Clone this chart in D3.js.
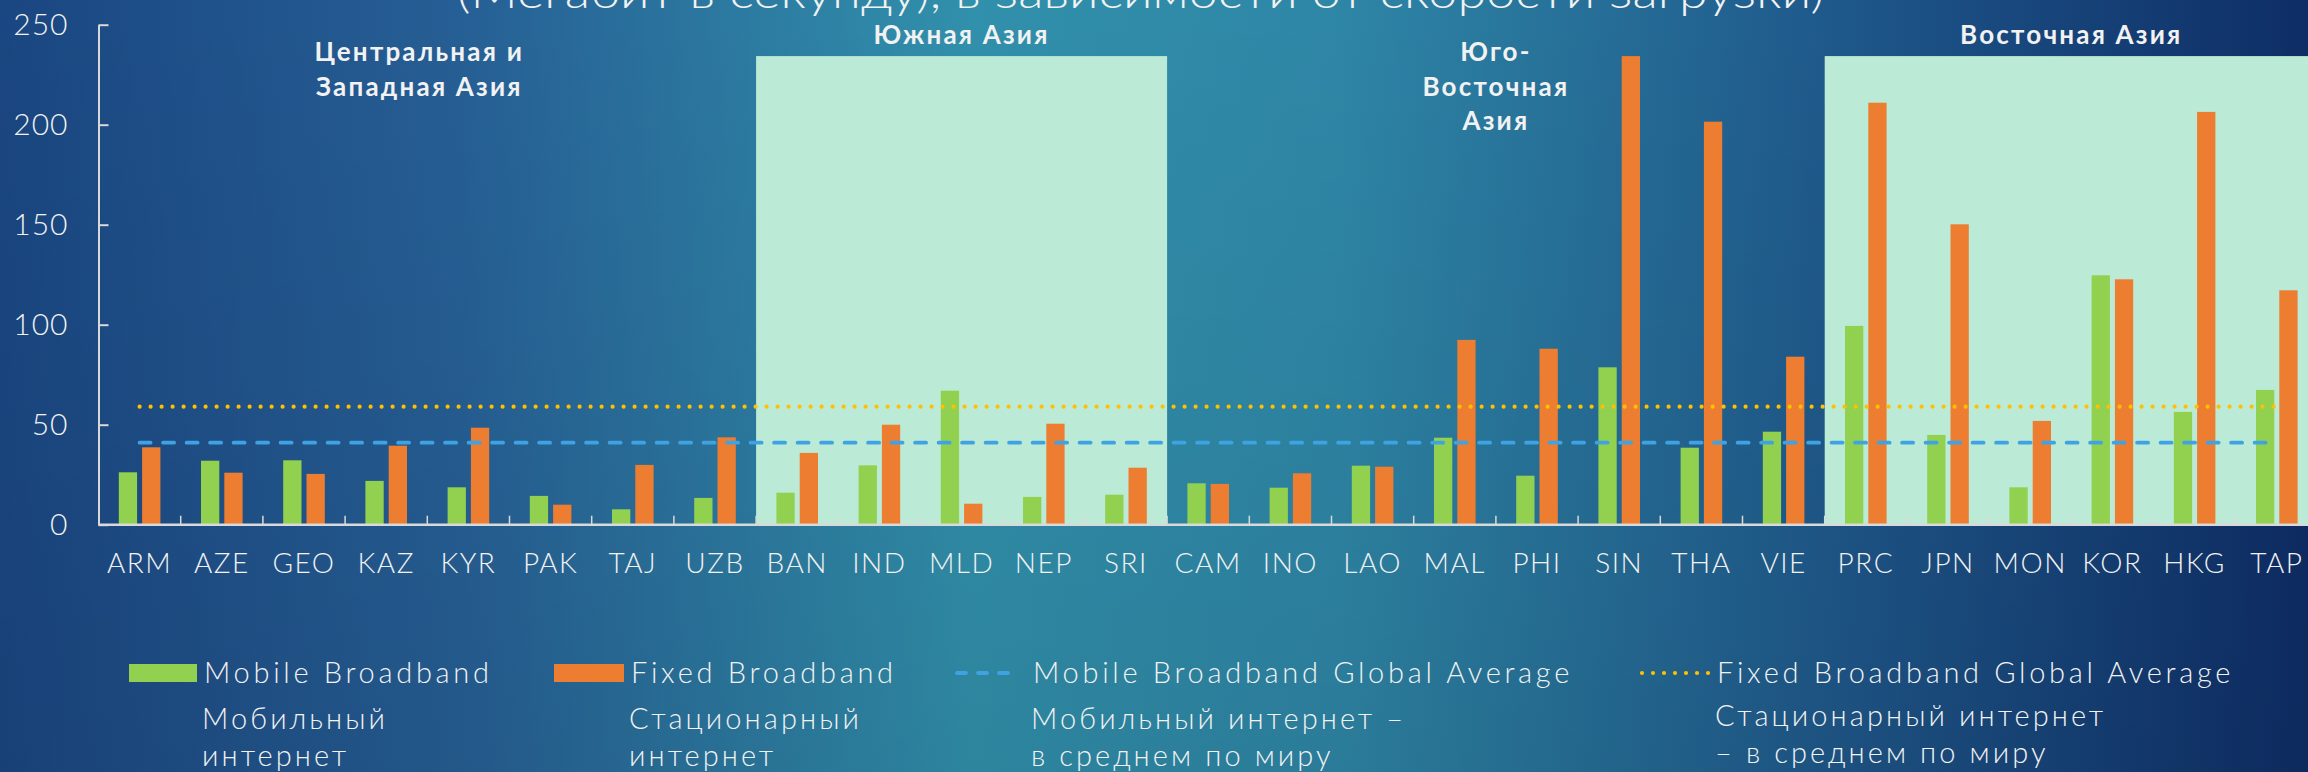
<!DOCTYPE html>
<html lang="ru">
<head>
<meta charset="utf-8">
<title>Mobile and Fixed Broadband</title>
<script src="https://d3js.org/d3.v7.min.js"></script>
<style>
 body { margin: 0; overflow: hidden; }
 svg { display: block; font-family: Lato, "Open Sans", sans-serif; }
</style>
</head>
<body>
<script>

//Data
const countries = ['ARM', 'AZE', 'GEO', 'KAZ', 'KYR', 'PAK', 'TAJ', 'UZB',
                   'BAN', 'IND', 'MLD', 'NEP', 'SRI',
                   'CAM', 'INO', 'LAO', 'MAL', 'PHI', 'SIN', 'THA', 'VIE',
                   'PRC', 'JPN', 'MON', 'KOR', 'HKG', 'TAP'];
const mobile = [26.2, 32.0, 32.2, 21.9, 18.7, 14.4, 7.7, 13.4,
                16.0, 29.7, 67.0, 13.9, 15.0,
                20.7, 18.5, 29.5, 43.5, 24.5, 78.7, 38.5, 46.5,
                99.4, 44.9, 18.7, 124.7, 56.4, 67.4];
const fixed = [38.7, 26.0, 25.4, 39.5, 48.5, 10.0, 29.9, 43.7,
               35.9, 50.0, 10.5, 50.5, 28.5,
               20.4, 25.7, 29.0, 92.4, 88.0, 234.3, 201.5, 84.0,
               211.0, 150.2, 51.9, 122.7, 206.4, 117.2];
const mobileAvg = 41;
const fixedAvg = 59;
const yTicks = [0, 50, 100, 150, 200, 250];
const regionNames = [['Центральная и', 'Западная Азия'], ['Южная Азия'], ['Юго-', 'Восточная', 'Азия'], ['Восточная Азия']];
const regionFirst = ['ARM', 'BAN', 'CAM', 'PRC'];
const regionLast = ['UZB', 'SRI', 'VIE', 'TAP'];
const regionShaded = [false, true, false, true];
const shadeTop = 234.3;
const legendEn = ['Mobile Broadband', 'Fixed Broadband', 'Mobile Broadband Global Average', 'Fixed Broadband Global Average'];
const legendRu = [['Мобильный', 'интернет'], ['Стационарный', 'интернет'], ['Мобильный интернет –', 'в среднем по миру'], ['Стационарный интернет', '– в среднем по миру']];
const title = '(Мегабит в секунду), в зависимости от скорости загрузки)';

//Display specs
const width = 2308;
const height = 772;
const colMobile = '#92d050';
const colFixed = '#ed7d31';
const colMobileAvg = '#3fa3e3';
const colFixedAvg = '#ffc000';
const colText = '#f2f2f2';
const colAxis = '#d9d9d9';

const svg = d3.select('body')
              .append('svg')
              .attr('width', width)
              .attr('height', height);

//Background gradient
const defs = svg.append('defs');
const grad = defs.append('linearGradient')
                 .attr('id', 'bg')
                 .attr('x1', 0).attr('x2', 1).attr('y1', 0).attr('y2', 0);
[[0, '#1a4681'], [0.2, '#265f95'], [0.42, '#3190ab'], [0.58, '#2e86a6'], [0.8, '#1e578a'], [1, '#0e2d66']]
    .forEach(function (s) {
        grad.append('stop').attr('offset', s[0]).attr('stop-color', s[1]);
    });
const shade = defs.append('linearGradient')
                  .attr('id', 'shade')
                  .attr('x1', 0).attr('x2', 0).attr('y1', 0).attr('y2', 1);
shade.append('stop').attr('offset', 0).attr('stop-color', '#000').attr('stop-opacity', 0);
shade.append('stop').attr('offset', 1).attr('stop-color', '#000').attr('stop-opacity', 0.08);

svg.append('rect').attr('width', width).attr('height', height).attr('fill', 'url(#bg)');
svg.append('rect').attr('width', width).attr('height', height).attr('fill', 'url(#shade)');

//Scales
const x0 = d3.scaleBand()
             .domain(countries)
             .range([98.5, 98.5 + 27 * 82.2]);
const bw = x0.bandwidth();
const x1 = d3.scaleBand()
             .domain(['mobile', 'fixed'])
             .range([bw * 0.247, bw * 0.753])
             .paddingInner(0.215);
const y = d3.scaleLinear()
            .domain([0, 250])
            .range([524.7, 24.7]);

//Title (mostly cut off at the top)
svg.append('text')
   .attr('x', 457)
   .attr('y', 8)
   .attr('textLength', 1367)
   .attr('lengthAdjust', 'spacingAndGlyphs')
   .style('font-size', '44px')
   .style('font-weight', 300)
   .style('fill', colText)
   .text(title);

//Shaded regions
const regions = regionNames.map(function (n, i) {
    return {names: n, first: regionFirst[i], last: regionLast[i], shaded: regionShaded[i]};
});
svg.selectAll('.region')
   .data(regions.filter(d => d.shaded))
   .enter()
   .append('rect')
   .attr('class', 'region')
   .attr('x', d => x0(d.first))
   .attr('y', y(shadeTop))
   .attr('width', d => x0(d.last) + bw - x0(d.first))
   .attr('height', y(0) - y(shadeTop))
   .style('fill', '#bbebd7');

//Region labels
regions.forEach(function (r, k) {
    const cx = (x0(r.first) + x0(r.last) + bw) / 2 - (k === 0 ? 8 : 0);
    const top = r.names.length === 1 ? 44 : 61;
    svg.append('text')
       .attr('text-anchor', 'middle')
       .style('font-size', '26px')
       .style('font-weight', 'bold')
       .style('letter-spacing', '2.2px')
       .style('fill', colText)
       .selectAll('tspan')
       .data(r.names)
       .enter()
       .append('tspan')
       .attr('x', cx)
       .attr('y', (d, i) => top + i * 34.5)
       .text(d => d);
});

//Y axis
const yAxis = svg.append('g')
                 .attr('transform', 'translate(' + x0.range()[0] + ',0)')
                 .call(d3.axisLeft(y).tickValues(yTicks).tickSizeInner(-10).tickSizeOuter(0).tickPadding(30));
yAxis.selectAll('path, line').style('stroke', colAxis).style('stroke-width', 2);
yAxis.selectAll('text')
     .style('font-size', '30px')
     .style('font-weight', 300)
     .style('letter-spacing', '1px')
     .style('fill', colText)
     .style('font-family', 'Lato, sans-serif');

//X axis
const xAxis = svg.append('g')
                 .attr('transform', 'translate(0,' + y(0) + ')')
                 .call(d3.axisBottom(x0).tickSize(0).tickPadding(0));
xAxis.select('.domain').remove();
xAxis.selectAll('text')
     .attr('y', 48)
     .attr('dy', null)
     .style('font-size', '28px')
     .style('font-weight', 300)
     .style('letter-spacing', '1.5px')
     .style('fill', colText)
     .style('font-family', 'Lato, sans-serif');

//Category separators
svg.selectAll('.sep')
   .data(countries.slice(1))
   .enter()
   .append('line')
   .attr('class', 'sep')
   .attr('x1', d => x0(d))
   .attr('x2', d => x0(d))
   .attr('y1', y(0))
   .attr('y2', y(0) - 9)
   .style('stroke', colAxis)
   .style('stroke-width', 1.5);

//Bars
const groups = svg.selectAll('.grp')
                  .data(countries)
                  .enter()
                  .append('g')
                  .attr('class', 'grp')
                  .attr('transform', d => 'translate(' + x0(d) + ',0)');
groups.append('rect')
      .attr('x', x1('mobile'))
      .attr('y', (d, i) => y(mobile[i]))
      .attr('width', x1.bandwidth())
      .attr('height', (d, i) => y(0) - y(mobile[i]))
      .style('fill', colMobile);
groups.append('rect')
      .attr('x', x1('fixed'))
      .attr('y', (d, i) => y(fixed[i]))
      .attr('width', x1.bandwidth())
      .attr('height', (d, i) => y(0) - y(fixed[i]))
      .style('fill', colFixed);

//Baseline
svg.append('line')
   .attr('x1', x0.range()[0])
   .attr('x2', width)
   .attr('y1', y(0))
   .attr('y2', y(0))
   .style('stroke', colAxis)
   .style('stroke-width', 2.5);

//Global averages
const first = countries[0];
const last = countries[countries.length - 1];
const avgLine = d3.line()
                  .x(d => x0(d) + bw / 2);
svg.append('path')
   .datum([first, last])
   .attr('d', avgLine.y(() => y(mobileAvg)))
   .style('fill', 'none')
   .style('stroke', colMobileAvg)
   .style('stroke-width', 3.8)
   .style('stroke-linecap', 'round')
   .style('stroke-dasharray', '11 12.5');
svg.append('path')
   .datum([first, last])
   .attr('d', avgLine.y(() => y(fixedAvg)))
   .style('fill', 'none')
   .style('stroke', colFixedAvg)
   .style('stroke-width', 4.2)
   .style('stroke-linecap', 'round')
   .style('stroke-dasharray', '0 11');

//Legend
const legX = [129, 554, 955, 1640];
const legTextX = [204, 631, 1033, 1717];
const legY = 673;
const leg = svg.append('g');
leg.append('rect').attr('x', legX[0]).attr('y', legY - 9).attr('width', 68).attr('height', 18).style('fill', colMobile);
leg.append('rect').attr('x', legX[1]).attr('y', legY - 9).attr('width', 70).attr('height', 18).style('fill', colFixed);
leg.append('line')
   .attr('x1', legX[2] + 2).attr('x2', legX[2] + 61).attr('y1', legY).attr('y2', legY)
   .style('stroke', colMobileAvg).style('stroke-width', 3.8)
   .style('stroke-linecap', 'round').style('stroke-dasharray', '9 12');
leg.append('line')
   .attr('x1', legX[3] + 2).attr('x2', legX[3] + 70).attr('y1', legY).attr('y2', legY)
   .style('stroke', colFixedAvg).style('stroke-width', 4.2)
   .style('stroke-linecap', 'round').style('stroke-dasharray', '0 11');

legendEn.forEach(function (t, i) {
    leg.append('text')
       .attr('x', legTextX[i])
       .attr('y', legY + 10)
       .style('font-size', '29px')
       .style('font-weight', 300)
       .style('letter-spacing', '3.7px')
       .style('fill', colText)
       .text(t);
    leg.append('text')
       .style('font-size', '29px')
       .style('font-weight', 300)
       .style('letter-spacing', '3.1px')
       .style('fill', colText)
       .selectAll('tspan')
       .data(legendRu[i])
       .enter()
       .append('tspan')
       .attr('x', legTextX[i] - 2)
       .attr('y', (d, j) => (i === 3 ? 726 : 729) + j * 37)
       .text(d => d);
});

</script>
</body>
</html>
